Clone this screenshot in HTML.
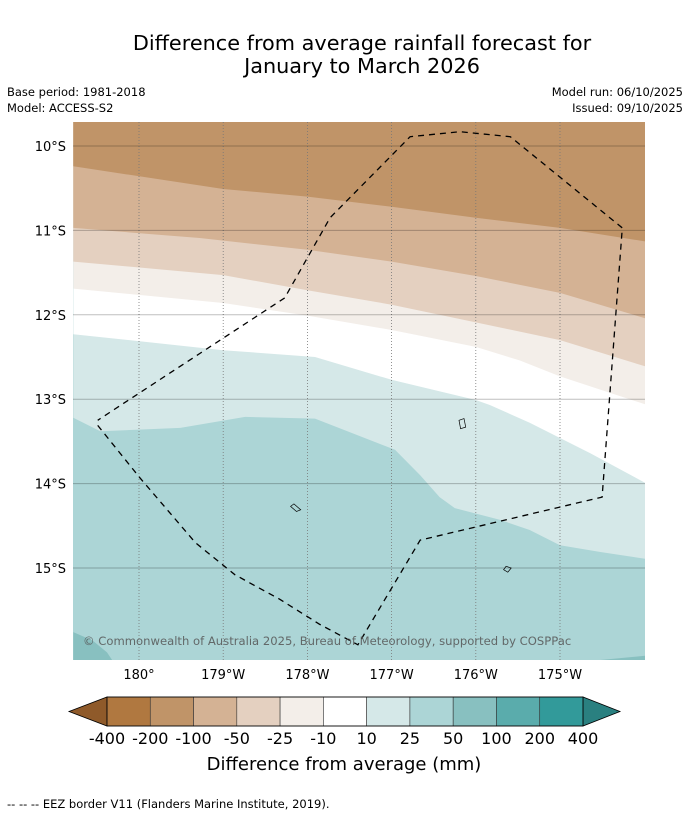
<!DOCTYPE html>
<html><head><meta charset="utf-8"><style>
body{margin:0;background:#fff;font-family:"DejaVu Sans","Liberation Sans",sans-serif}
</style></head><body>
<svg id="s" width="690" height="816" xmlns="http://www.w3.org/2000/svg" font-family="DejaVu Sans, Liberation Sans, sans-serif">
<text x="362" y="50" font-size="20.8" text-anchor="middle">Difference from average rainfall forecast for</text>
<text x="362" y="73" font-size="20.8" text-anchor="middle">January to March 2026</text>
<text x="7" y="96" font-size="11.5">Base period: 1981-2018</text>
<text x="7" y="112" font-size="11.5">Model: ACCESS-S2</text>
<text x="683" y="96" font-size="11.5" text-anchor="end">Model run: 06/10/2025</text>
<text x="683" y="112" font-size="11.5" text-anchor="end">Issued: 09/10/2025</text>
<defs><clipPath id="mc"><rect x="73" y="122" width="572" height="538"/></clipPath></defs>
<g id="map" clip-path="url(#mc)"></g>
<g id="axes"></g>
<g id="cbar"></g>
<text x="344" y="770" font-size="18" text-anchor="middle">Difference from average (mm)</text>
<text x="7" y="808" font-size="11.5">-- -- -- EEZ border V11 (Flanders Marine Institute, 2019).</text>
</svg>
<script>
// Data: longitudes expressed as degrees from 0 east through 180 (181 = 179°W), latitudes in °S
const lonTicks=[180,181,182,183,184,185];
const lonLabels=["180°","179°W","178°W","177°W","176°W","175°W"];
const latTicks=[10,11,12,13,14,15];
const latLabels=["10°S","11°S","12°S","13°S","14°S","15°S"];
const cbLevels=["-400","-200","-100","-50","-25","-10","10","25","50","100","200","400"];
const cbColors=["#8f5a2a","#b07840","#c09468","#d4b294","#e4d0c0","#f3eee9","#ffffff","#d5e8e8","#acd5d6","#88c0c0","#5aacac","#329a9a","#2a8080"];
// contour boundaries [lon, lat]
const bnd_m200=[[179.22,10.24],[181.0,10.51],[182.0,10.60],[183.0,10.72],[184.0,10.85],[185.0,10.97],[186.01,11.13]];
const bnd_m100=[[179.22,10.97],[180.72,11.09],[182.0,11.23],[183.0,11.37],[184.0,11.54],[185.0,11.74],[186.01,12.04]];
const bnd_m50=[[179.22,11.37],[181.0,11.53],[182.0,11.71],[183.0,11.88],[184.0,12.09],[185.0,12.30],[186.01,12.61]];
const bnd_m25=[[179.22,11.69],[181.0,11.86],[182.0,12.01],[183.0,12.18],[184.0,12.38],[184.52,12.54],[185.0,12.73],[186.01,13.06]];
const bnd_p10=[[179.22,12.23],[181.0,12.42],[182.09,12.50],[183.0,12.77],[184.0,13.01],[184.17,13.07],[184.64,13.28],[185.36,13.64],[186.01,13.99]];
const bnd_p25=[[179.22,13.22],[179.54,13.38],[180.49,13.34],[181.26,13.21],[182.09,13.23],[183.04,13.60],[183.34,13.90],[183.57,14.16],[183.75,14.29],[184.29,14.43],[184.64,14.55],[185.0,14.73],[185.48,14.81],[186.01,14.89]];
const blob_p50=[[179.22,15.76],[179.45,15.86],[179.62,16.0],[179.68,16.09],[179.22,16.09]];
const blob_p50b=[[185.48,16.09],[186.01,16.04],[186.01,16.09]];
const eez=[[179.51,13.31],[180.01,13.93],[180.67,14.70],[181.14,15.08],[181.67,15.37],[182.15,15.67],[182.60,15.91],[183.34,14.67],[185.50,14.16],[185.74,10.97],[184.41,9.89],[183.81,9.83],[183.22,9.89],[182.27,10.85],[181.73,11.80],[179.51,13.25]];
const xs=l=>139+(l-180)*84.2, ys=l=>146+(l-10)*84.4;
const NS="http://www.w3.org/2000/svg";
function mk(t,a,p){const e=document.createElementNS(NS,t);for(const k in a)e.setAttribute(k,a[k]);p.appendChild(e);return e;}
const map=document.getElementById('map'),axes=document.getElementById('axes'),cb=document.getElementById('cbar');
const pts=a=>a.map(p=>xs(p[0]).toFixed(1)+","+ys(p[1]).toFixed(1)).join(" ");
let bg=mk('rect',{x:73,y:122,width:572,height:538,fill:cbColors[8]},map);


const bands=[[bnd_p25,cbColors[7],'band-10-25'],[bnd_p10,cbColors[6],'band-neutral'],[bnd_m25,cbColors[5],'band-m25-m10'],[bnd_m50,cbColors[4],'band-m50-m25'],[bnd_m100,cbColors[3],'band-m100-m50'],[bnd_m200,cbColors[2],'band-m200-m100']];
bands.forEach(b=>{const top=[[b[0][b[0].length-1][0],9.5],[b[0][0][0],9.5]];
 const e=mk('polygon',{points:pts(b[0].concat(top)),fill:b[1]},map);
 
 });
[blob_p50,blob_p50b].forEach(b=>{const e=mk('polygon',{points:pts(b),fill:cbColors[9]},map);
 
 });
lonTicks.forEach((l,i)=>{const g=mk('line',{x1:xs(l),x2:xs(l),y1:122,y2:660,stroke:'#777','stroke-width':0.8,'stroke-dasharray':'1,2'},map);
 
 
 const t=mk('text',{x:xs(l),y:679,'font-size':13,'text-anchor':'middle'},axes);t.textContent=lonLabels[i];
 
 });
latTicks.forEach((l,i)=>{const g=mk('line',{x1:73,x2:645,y1:ys(l),y2:ys(l),stroke:'rgba(0,0,0,0.25)','stroke-width':1},map);
 
 
 const t=mk('text',{x:66,y:ys(l)+5,'font-size':13,'text-anchor':'end'},axes);t.textContent=latLabels[i];
 
 });
[[[183.80,13.25],[183.86,13.23],[183.88,13.33],[183.82,13.35]],[[181.84,14.24],[181.92,14.31],[181.87,14.33],[181.80,14.27]],[[184.36,14.98],[184.42,15.0],[184.38,15.05],[184.33,15.02]]].forEach(a=>{const e=mk('polygon',{points:pts(a),fill:'none',stroke:'#000','stroke-width':0.7},map);
 
 });
const ez=mk('polyline',{points:pts(eez),fill:'none',stroke:'#000','stroke-width':1.3,'stroke-dasharray':'6,5'},map);


const cp=mk('text',{x:83,y:645,'font-size':11.6,fill:'#555','fill-opacity':0.85},map);cp.textContent="© Commonwealth of Australia 2025, Bureau of Meteorology, supported by COSPPac";


// colorbar
const c0=107,c1=583,cy0=697,cy1=726,n=cbColors.length-2,w=(c1-c0)/n;
let t1=mk('polygon',{points:`69,711.5 ${c0},${cy0} ${c0},${cy1}`,fill:cbColors[0],stroke:'#000','stroke-width':0.8},cb);


let t2=mk('polygon',{points:`620,711.5 ${c1},${cy0} ${c1},${cy1}`,fill:cbColors[cbColors.length-1],stroke:'#000','stroke-width':0.8},cb);


for(let i=0;i<n;i++){const r=mk('rect',{x:c0+i*w,y:cy0,width:w,height:cy1-cy0,fill:cbColors[i+1],stroke:'#333','stroke-width':0.6},cb);
 
 }
mk('rect',{x:c0,y:cy0,width:c1-c0,height:cy1-cy0,fill:'none',stroke:'#000','stroke-width':0.8},cb);
cbLevels.forEach((v,i)=>{const t=mk('text',{x:c0+i*w,y:744,'font-size':16,'text-anchor':'middle'},cb);t.textContent=v;
 
 });
</script>
</body></html>
